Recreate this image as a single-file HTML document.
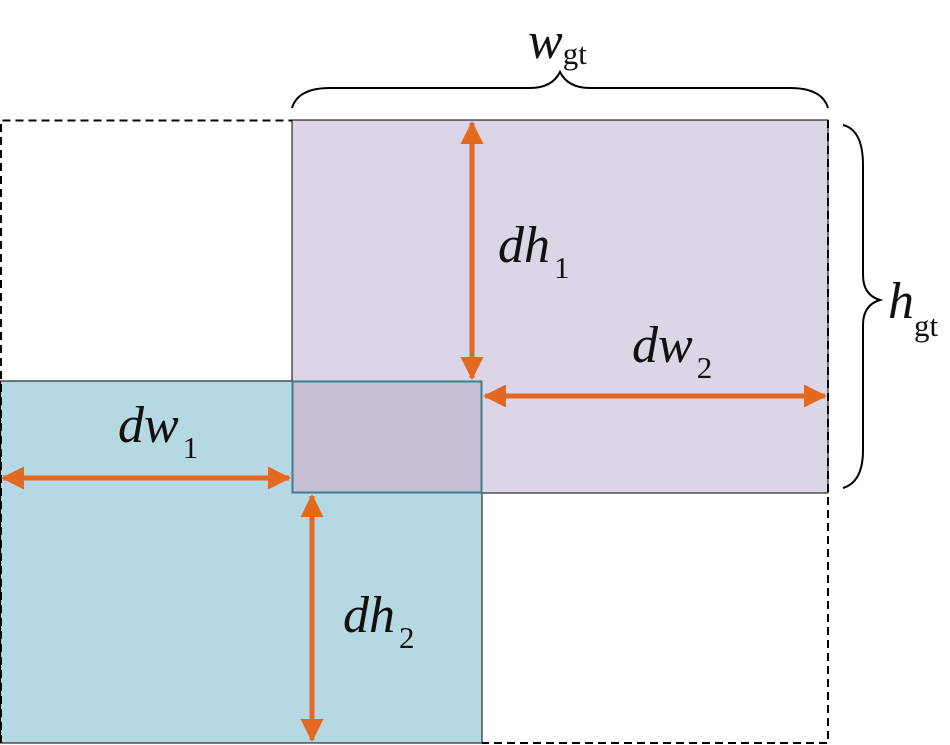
<!DOCTYPE html>
<html><head><style>body{margin:0;background:#fff}svg{display:block}</style></head><body>
<svg width="950" height="745" xmlns="http://www.w3.org/2000/svg" font-family="Liberation Serif, serif">
<defs><marker id="a" markerWidth="4.6" markerHeight="4.6" refX="4.2" refY="2.3" orient="auto-start-reverse" markerUnits="strokeWidth"><path d="M0,0 L4.6,2.3 L0,4.6 Z" fill="#e2691f"/></marker></defs>
<rect x="292" y="120" width="536" height="373" fill="#dcd5e5" stroke="#000" stroke-width="1"/>
<rect x="0.5" y="381" width="481.5" height="362" fill="#b5d8e2" stroke="#000" stroke-width="1"/>
<rect x="292.5" y="381.5" width="189" height="111" fill="#c8bfd6" stroke="#3b7d8c" stroke-width="2"/>
<path d="M1,743 V120.5 H292 M828,120 V743 H482" fill="none" stroke="#000" stroke-width="2" stroke-dasharray="8,5"/>
<g stroke="#e2691f" stroke-width="5" fill="none" marker-start="url(#a)" marker-end="url(#a)">
<line x1="472" y1="123" x2="472" y2="378"/>
<line x1="485" y1="396" x2="825" y2="396"/>
<line x1="3" y1="478" x2="289" y2="478"/>
<line x1="312" y1="496" x2="312" y2="740"/>
</g>
<g fill="none" stroke="#000" stroke-width="2">
<path d="M292,108 Q298,88 330,88 L530,88 Q552,88 560,72 Q568,88 590,88 L790,88 Q822,88 828,108"/>
<path d="M843,125 Q863,130 863,165 L863,275 Q863,295 880,300 Q863,305 863,325 L863,450 Q863,482 843,488"/>
</g>
<g font-style="italic" font-size="52" fill="#111">
<text x="528" y="58">w<tspan font-style="normal" font-size="31" dy="6">gt</tspan></text>
<text x="888" y="318">h<tspan font-style="normal" font-size="31" dy="18">gt</tspan></text>
<text x="498" y="262">dh<tspan font-style="normal" font-size="31" dx="4" dy="16">1</tspan></text>
<text x="632" y="362">dw<tspan font-style="normal" font-size="31" dx="4" dy="16">2</tspan></text>
<text x="118" y="442">dw<tspan font-style="normal" font-size="31" dx="4" dy="16">1</tspan></text>
<text x="343" y="632">dh<tspan font-style="normal" font-size="31" dx="4" dy="16">2</tspan></text>
</g>
</svg>
</body></html>
